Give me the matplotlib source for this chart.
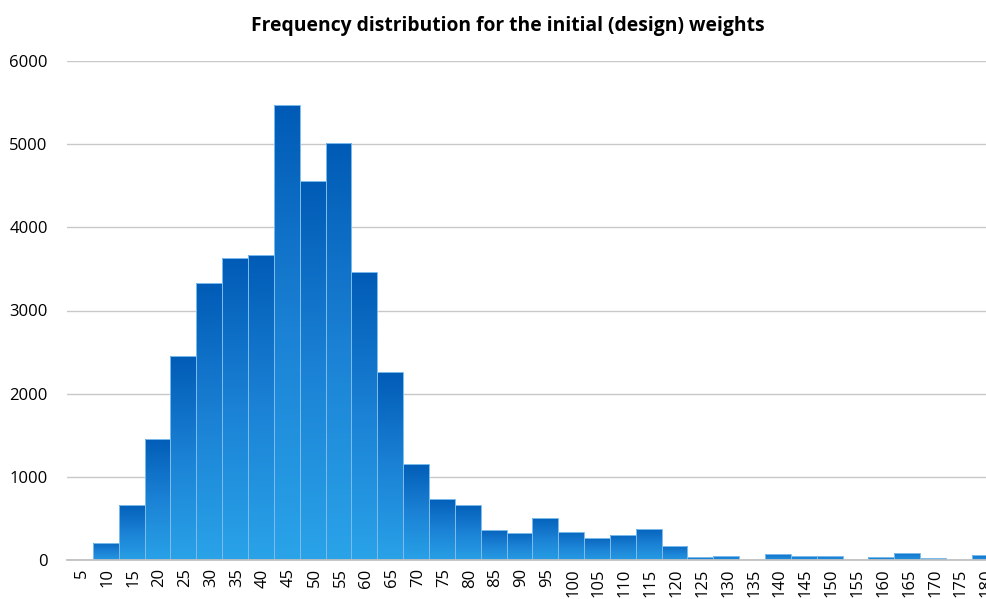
import matplotlib
matplotlib.use("Agg")
import matplotlib.pyplot as plt
import matplotlib.transforms as mtransforms
import numpy as np
from matplotlib.colors import LinearSegmentedColormap

categories = [str(v) for v in range(5, 185, 5)]
values = [0, 200, 660, 1450, 2450, 3330, 3630, 3670, 5470, 4555, 5010, 3460,
          2260, 1150, 730, 660, 360, 330, 500, 340, 260, 300, 370, 165,
          35, 45, 0, 70, 50, 50, 0, 40, 85, 20, 0, 60]
yticks = [0, 1000, 2000, 3000, 4000, 5000, 6000]

plt.rcParams['font.family'] = ['Open Sans', 'DejaVu Sans']

fig = plt.figure(figsize=(9.87, 5.99), dpi=100)
ax = fig.add_axes([67.1 / 987, 1 - 560 / 599, 930.6 / 987, (560 - 61) / 599])

x = np.arange(len(categories))
bars = ax.bar(x, values, width=1.0, color='none', edgecolor='#7dbcec',
              linewidth=0.7, zorder=3)

cmap = LinearSegmentedColormap.from_list('g', ['#2aa4e9', '#1b82d5', '#005ab5'])
grad = np.linspace(0, 1, 256).reshape(-1, 1)
for b in bars:
    h = b.get_height()
    if h <= 0:
        continue
    x0 = b.get_x()
    w = b.get_width()
    pad = 60
    im = ax.imshow(grad, extent=(x0 - 0.05, x0 + w + 0.05, -pad, h + pad), origin='lower',
                   cmap=cmap, aspect='auto', zorder=2, interpolation='bilinear')
    im.set_clip_path(b)

ax.set_xlim(-0.5, len(categories) - 0.5)
ax.set_ylim(0, 6000)
ax.set_yticks(yticks)
ax.set_yticklabels([str(v) for v in yticks], fontsize=12)
ax.set_xticks(x)
ax.set_xticklabels(categories, rotation=90, fontsize=12)
ax.tick_params(axis='both', length=0)
ax.tick_params(axis='y', pad=14)
ax.tick_params(axis='x', pad=6)
offset = mtransforms.ScaledTranslation(2 / 100, 0, fig.dpi_scale_trans)
for lbl in ax.get_xticklabels():
    lbl.set_transform(lbl.get_transform() + offset)
ax.yaxis.grid(True, color='#c8c8c8', linewidth=1.0, zorder=0)
ax.set_axisbelow(True)
for s in ['left', 'right', 'top']:
    ax.spines[s].set_visible(False)
ax.spines['bottom'].set_color('#c0c0c0')
ax.spines['bottom'].set_linewidth(1.3)
ax.spines['bottom'].set_zorder(4)

fig.text(508 / 987, 1 - 26 / 599, 'Frequency distribution for the initial (design) weights',
         ha='center', va='center', fontsize=13.9, fontweight='bold')

fig.savefig('out.png', dpi=100)
